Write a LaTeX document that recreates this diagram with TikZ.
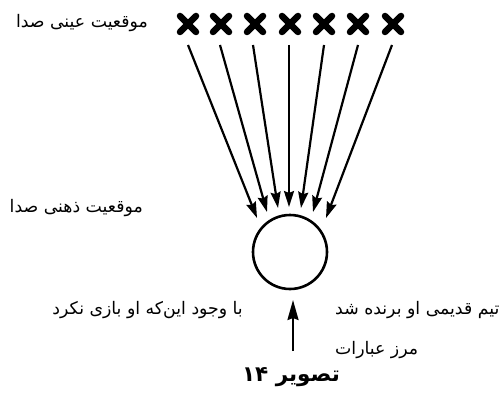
\documentclass[tikz,border=0pt]{standalone}
\usepackage{fontspec}
\setmainfont{DejaVu Sans}
\newfontfamily\arabicfont[Script=Arabic]{DejaVu Sans}
\TeXXeTstate=1
\usetikzlibrary{arrows.meta,calc}
\tikzset{
  xmark/.style={line width=6.5pt, line cap=round},
  ray/.style={line width=2.2pt, -{Stealth[length=16pt,width=10pt,inset=2pt]}},
  lbl/.style={inner sep=0pt, font=\arabicfont\fontsize{17.3}{20}\selectfont},
  ttl/.style={inner sep=0pt, font=\arabicfont\bfseries\fontsize{21.5}{24}\selectfont},
}
\begin{document}
\begin{tikzpicture}[x=1pt,y=-1pt]
\useasboundingbox (0,0) rectangle (500,393);
% crosses
\foreach \i/\x in {1/188,2/221,3/255,4/290,5/324,6/358,7/393}{
  \coordinate (c\i) at (\x,24);
  \draw[xmark] ($(c\i)+(-8,-8)$) -- ($(c\i)+(8,8)$);
  \draw[xmark] ($(c\i)+(-8,8)$) -- ($(c\i)+(8,-8)$);
}
% starts of rays
\coordinate (s1) at (188,45);
\coordinate (s2) at (220,45);
\coordinate (s3) at (253,45);
\coordinate (s4) at (289,45);
\coordinate (s5) at (324,45);
\coordinate (s6) at (358,45);
\coordinate (s7) at (392,45);
% tips
\coordinate (e1) at (257,218);
\coordinate (e2) at (267,212);
\coordinate (e3) at (278,208);
\coordinate (e4) at (289,207);
\coordinate (e5) at (301,208);
\coordinate (e6) at (313,212);
\coordinate (e7) at (326,218);
\foreach \i in {1,...,7}{\draw[ray] (s\i) -- (e\i);}
% circle
\node[circle, draw, line width=2.6pt, minimum size=74pt, inner sep=0pt] (head) at (290,252) {};
% boundary arrow
\coordinate (b0) at (293,351);
\coordinate (b1) at (293,300);
\draw[line width=2.2pt, -{Stealth[length=20pt,width=11pt,inset=2pt]}] (b0) -- (b1);
% labels
\node[lbl, anchor=east] (t1) at (148,23) {\beginR موقعیت عینی صدا\endR};
\node[lbl, anchor=east] (t2) at (143,208) {\beginR موقعیت ذهنی صدا\endR};
\node[lbl, anchor=east] (t3) at (243,310) {\beginR با وجود این‌که او بازی نکرد\endR};
\node[lbl, anchor=west] (t4) at (335,310) {\beginR تیم قدیمی او برنده شد\endR};
\node[lbl, anchor=west] (t5) at (335,350) {\beginR مرز عبارات\endR};
\node[ttl] (t6) at (291,377) {\beginR تصویر \beginL۱۴\endL\endR};
\end{tikzpicture}
\end{document}
